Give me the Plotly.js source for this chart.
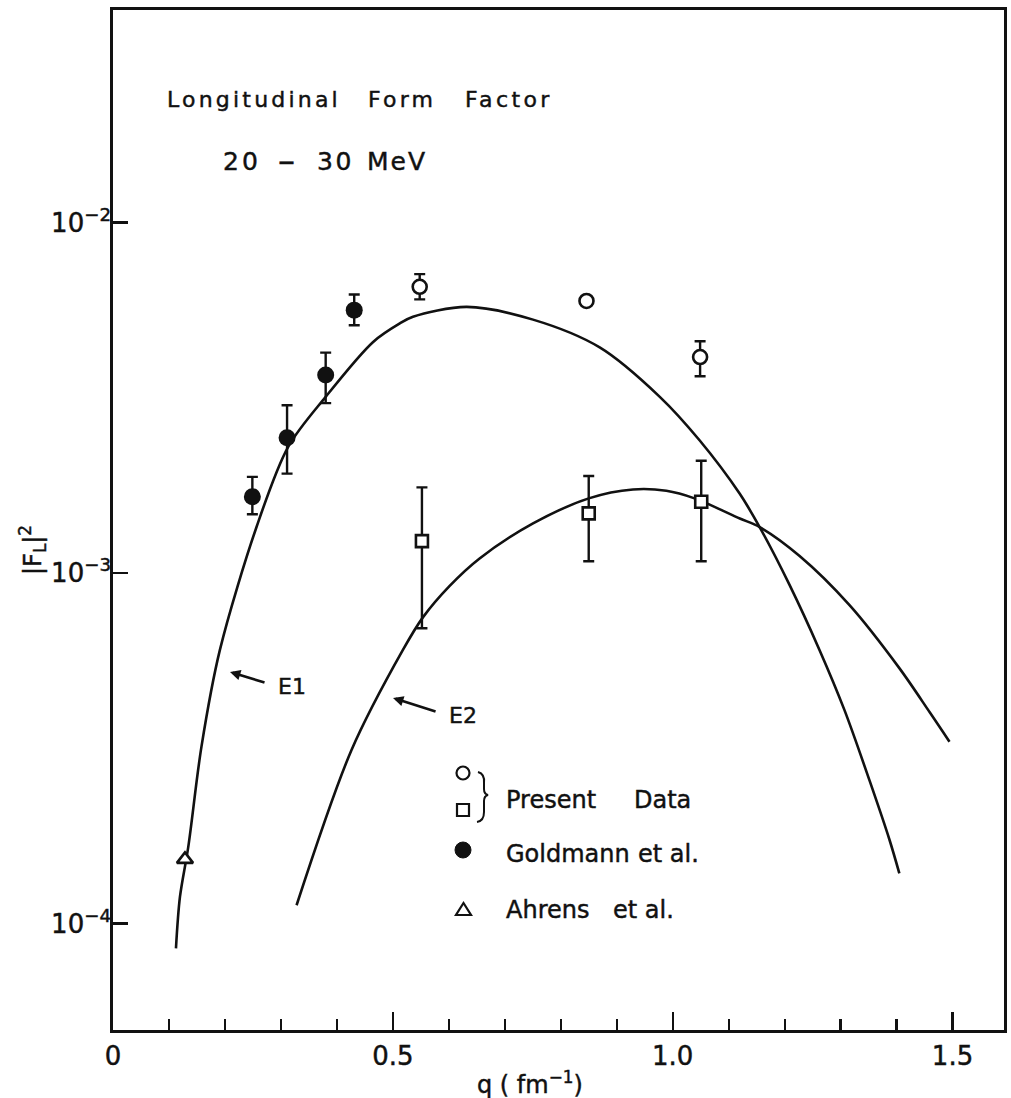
<!DOCTYPE html>
<html>
<head>
<meta charset="utf-8">
<script src="https://cdn.plot.ly/plotly-3.0.1.min.js"></script>
<style>
html,body{margin:0;padding:0;background:#fff;}
#chart{width:1011px;height:1098px;}
#chart .infolayer text, #chart .xtick text, #chart .ytick text { stroke:#111; stroke-width:0.45px; }
</style>
</head>
<body>
<div id="chart"></div>
<script>
// Longitudinal form factor |F_L|^2 against momentum transfer q (20–30 MeV)

// Present data: circles
const presentCircleQ  = [0.548, 0.846, 1.049];
const presentCircleF  = [6.55e-3, 5.97e-3, 4.13e-3];
const presentCircleHi = [7.12e-3, null, 4.58e-3];
const presentCircleLo = [6.03e-3, null, 3.64e-3];

// Present data: squares
const presentSquareQ  = [0.552, 0.850, 1.051];
const presentSquareF  = [1.232e-3, 1.479e-3, 1.596e-3];
const presentSquareHi = [1.754e-3, 1.89e-3, 2.09e-3];
const presentSquareLo = [6.95e-4, 1.08e-3, 1.08e-3];

// Goldmann et al.
const goldmannQ  = [0.249, 0.311, 0.380, 0.431];
const goldmannF  = [1.65e-3, 2.43e-3, 3.67e-3, 5.62e-3];
const goldmannHi = [1.88e-3, 3.01e-3, 4.25e-3, 6.23e-3];
const goldmannLo = [1.47e-3, 1.92e-3, 3.05e-3, 5.09e-3];

// Ahrens et al.
const ahrensQ = [0.1286];
const ahrensF = [1.523e-4];

// E1 calculation
const e1Q = [0.1125, 0.1196, 0.1345, 0.158, 0.191, 0.2566, 0.313, 0.380, 0.4648, 0.5125,
             0.536, 0.632, 0.7505, 0.8696, 0.977, 1.048, 1.1196, 1.1554, 1.209, 1.2625,
             1.307, 1.352, 1.3875, 1.405];
const e1F = [8.49e-5, 1.19e-4, 1.654e-4, 3.19e-4, 6.03e-4, 1.354e-3, 2.29e-3, 3.18e-3, 4.56e-3, 5.15e-3,
             5.38e-3, 5.74e-3, 5.28e-3, 4.40e-3, 3.18e-3, 2.39e-3, 1.684e-3, 1.351e-3, 9.23e-4, 6.02e-4,
             4.06e-4, 2.55e-4, 1.73e-4, 1.39e-4];

// E2 calculation
const e2Q = [0.328, 0.426, 0.518, 0.554, 0.602, 0.655, 0.7505, 0.85, 0.929, 0.9887, 1.039, 1.12,
             1.1554, 1.2268, 1.316, 1.405, 1.459, 1.4946];
const e2F = [1.127e-4, 3.12e-4, 6.03e-4, 7.48e-4, 9.2e-4, 1.10e-3, 1.384e-3, 1.632e-3, 1.730e-3, 1.715e-3, 1.632e-3, 1.43e-3,
             1.351e-3, 1.117e-3, 8.09e-4, 5.35e-4, 4.01e-4, 3.30e-4];

// Axis tick labels
const xTickVals = [0, 0.5, 1.0, 1.5];
const xTickText = ['0', '0.5', '1.0', '1.5'];
const yTickVals = [1e-4, 1e-3, 1e-2];
const yTickText = ['10<sup>−4</sup>', '10<sup>−3</sup>', '10<sup>−2</sup>'];

// ---------------------------------------------------------------------------
const FONT = 'DejaVu Sans, Liberation Sans, sans-serif';
const INK = '#111';

function errPlus(v, hi)  { return v.map((y, i) => hi[i] == null ? 0 : hi[i] - y); }
function errMinus(v, lo) { return v.map((y, i) => lo[i] == null ? 0 : y - lo[i]); }
function errBars(v, hi, lo) {
  return {type: 'data', symmetric: false, array: errPlus(v, hi), arrayminus: errMinus(v, lo),
          color: INK, thickness: 2.4, width: 5.5};
}

const curveLine = {color: INK, width: 2.6, shape: 'spline', smoothing: 0.9};

const traces = [
  {x: e1Q, y: e1F, mode: 'lines', line: curveLine, hoverinfo: 'skip'},
  {x: e2Q, y: e2F, mode: 'lines', line: curveLine, hoverinfo: 'skip'},
  {x: goldmannQ, y: goldmannF, mode: 'markers', error_y: errBars(goldmannF, goldmannHi, goldmannLo),
   marker: {symbol: 'circle', size: 17, color: INK}},
  {x: presentCircleQ, y: presentCircleF, mode: 'markers',
   error_y: errBars(presentCircleF, presentCircleHi, presentCircleLo),
   marker: {symbol: 'circle', size: 14, color: '#fff', line: {color: INK, width: 2.6}}},
  {x: presentSquareQ, y: presentSquareF, mode: 'markers',
   error_y: errBars(presentSquareF, presentSquareHi, presentSquareLo),
   marker: {symbol: 'square', size: 12, color: '#fff', line: {color: INK, width: 2.6}}},
  {x: ahrensQ, y: ahrensF, mode: 'markers',
   marker: {symbol: 'triangle-up', size: 14, color: '#fff', line: {color: INK, width: 2.6}}}
];

// plot-area geometry (pixels) used to place the key and labels
const L = 113, T = 10, W = 891, H = 1020;
const px = v => (v - L) / W;
const py = v => 1 - (v - T) / H;

const annotations = [];
const spacing = [];   // letter spacing per annotation, applied by a style sheet

function label(text, x, y, size, ls, anchor) {
  const a = anchor || 'left';
  const ann = {xref: 'paper', yref: 'paper', x: px(x), y: py(y), xanchor: a, yanchor: 'middle', align: a,
               text: text, showarrow: false, font: {family: FONT, size: size, color: INK}};
  annotations.push(ann);
  spacing.push(ls || 0);
  return ann;
}
// curve label with a short pointer: head at (xh, yh), text box starting at (xt, yt)
function pointedLabel(text, xh, yh, xt, yt, size) {
  annotations.push({xref: 'paper', yref: 'paper', x: px(xh), y: py(yh), ax: xt - xh, ay: yt - yh,
          xanchor: 'left', yanchor: 'middle', align: 'left', text: text,
          font: {family: FONT, size: size, color: INK},
          showarrow: true, arrowhead: 2, arrowsize: 0.8, arrowwidth: 2.6, arrowcolor: INK,
          startstandoff: 12});
  spacing.push(0);
}

// heading
label('Longitudinal', 165, 99, 22, 3.2);
label('Form', 366, 99, 22, 3.2);
label('Factor', 463, 99, 22, 3.4);
label('20', 221, 161, 25, 3);
label('–', 286, 160, 34, 0, 'center');
label('30', 315, 161, 25, 2.5);
label('MeV', 365, 161, 25, 2);
// curve labels
pointedLabel('E1', 230, 672, 276, 686, 22);
pointedLabel('E2', 393, 698, 447, 715, 22);
// key
label('Present', 504, 800, 24);
label('Data', 632, 800, 24);
label('Goldmann', 504, 854, 24);
label('et al.', 636, 854, 24);
label('Ahrens', 504, 910, 24);
label('et al.', 611, 910, 24);
// axis titles
label('|F<sub>L</sub>|<sup>2</sup>', 32, 550, 24, 0, 'center').textangle = -90;
label('q ( fm<sup>−1</sup>)', 530, 1083, 24, 0, 'center');

const styleEl = document.createElement('style');
styleEl.textContent = spacing.map((ls, i) =>
  '#chart .annotation[data-index="' + i + '"] text{letter-spacing:' + ls + 'px}').join('\n');
document.head.appendChild(styleEl);

// key symbols
const keyLine = {color: INK, width: 2.2};
const shapes = [
  {type: 'circle', xref: 'paper', yref: 'paper', x0: px(456.5), x1: px(469.5), y0: py(779.5), y1: py(766.5),
   line: keyLine, fillcolor: 'rgba(0,0,0,0)'},
  {type: 'rect', xref: 'paper', yref: 'paper', x0: px(457), x1: px(469), y0: py(816), y1: py(804),
   line: keyLine, fillcolor: 'rgba(0,0,0,0)'},
  {type: 'circle', xref: 'paper', yref: 'paper', x0: px(455), x1: px(471), y0: py(858), y1: py(842),
   line: {color: INK, width: 1}, fillcolor: INK},
  {type: 'path', xref: 'paper', yref: 'paper',
   path: 'M' + px(456) + ',' + py(915) + ' L' + px(471) + ',' + py(915) + ' L' + px(463.5) + ',' + py(903) + ' Z',
   line: keyLine, fillcolor: 'rgba(0,0,0,0)'},
  {type: 'path', xref: 'paper', yref: 'paper',
   path: 'M' + px(478) + ',' + py(772) +
         ' Q' + px(485) + ',' + py(774) + ' ' + px(484) + ',' + py(783) +
         ' L' + px(484) + ',' + py(789) +
         ' Q' + px(484) + ',' + py(794) + ' ' + px(488) + ',' + py(795) +
         ' Q' + px(484) + ',' + py(796) + ' ' + px(484) + ',' + py(801) +
         ' L' + px(484) + ',' + py(812) +
         ' Q' + px(484) + ',' + py(821) + ' ' + px(477) + ',' + py(822),
   line: {color: INK, width: 2}}
];

const axisCommon = {
  showline: true, mirror: true, linecolor: INK, linewidth: 2.8,
  showgrid: false, zeroline: false, ticks: 'inside', tickcolor: INK, tickwidth: 2.2,
  tickfont: {family: FONT, size: 26, color: INK}, fixedrange: true
};

const layout = {
  width: 1011, height: 1098,
  margin: {l: L, r: 1011 - L - W, t: T, b: 1098 - T - H, pad: 0},
  paper_bgcolor: '#fff', plot_bgcolor: '#fff',
  showlegend: false,
  font: {family: FONT, color: INK},
  xaxis: Object.assign({}, axisCommon, {
    range: [0, 1.592], tickmode: 'array', tickvals: xTickVals, ticktext: xTickText, ticklen: 18,
    ticklabelstandoff: 1,
    minor: {tick0: 0, dtick: 0.1, ticks: 'inside', ticklen: 11, tickwidth: 2.2, tickcolor: INK}
  }),
  yaxis: Object.assign({}, axisCommon, {
    type: 'log', range: [-4.304, -1.394], tickmode: 'array', tickvals: yTickVals, ticktext: yTickText,
    ticklen: 15, ticklabelstandoff: -6
  }),
  annotations: annotations,
  shapes: shapes
};

Plotly.newPlot('chart', traces, layout, {displayModeBar: false, staticPlot: true});
</script>
</body>
</html>
